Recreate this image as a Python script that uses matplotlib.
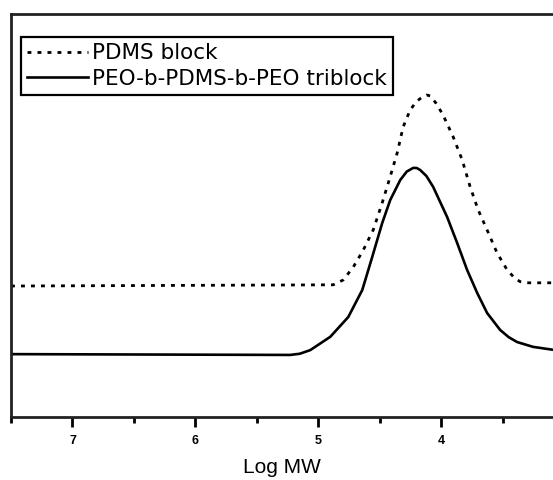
import matplotlib
matplotlib.use("Agg")
import matplotlib.pyplot as plt

# Data (x = Log MW, y = detector response, arbitrary units)
pdms_logmw = [7.50, 4.878, 4.797, 4.715, 4.634, 4.553, 4.480, 4.415, 4.358, 4.309,
              4.252, 4.20, 4.154, 4.12, 4.089, 4.04, 3.984, 3.902, 3.829, 3.764,
              3.699, 3.626, 3.545, 3.463, 3.40, 3.358, 3.30, 3.130, 3.05]
pdms_signal = [32.5, 32.8, 34.0, 37.2, 41.4, 46.4, 53.1, 59.6, 65.5, 72.0,
               76.2, 78.3, 79.4, 79.9, 79.7, 77.8, 74.9, 69.5, 63.8, 57.1,
               51.4, 46.4, 40.7, 36.5, 34.4, 33.6, 33.3, 33.3, 33.3]

tri_logmw = [7.50, 5.228, 5.15, 5.065, 4.902, 4.756, 4.642, 4.561, 4.480, 4.415,
             4.333, 4.28, 4.228, 4.20, 4.171, 4.12, 4.065, 3.951, 3.870, 3.789,
             3.707, 3.626, 3.520, 3.45, 3.382, 3.252, 3.05]
tri_signal = [15.6, 15.4, 15.7, 16.6, 19.9, 24.8, 31.5, 39.7, 48.1, 53.8,
              58.8, 60.9, 61.8, 61.8, 61.3, 59.8, 57.1, 49.6, 43.2, 36.5,
              30.8, 25.8, 21.6, 19.8, 18.6, 17.4, 16.5]

labels = ["PDMS block", "PEO-b-PDMS-b-PEO triblock"]
major_ticks = [7, 6, 5, 4]
minor_ticks = [7.5, 6.5, 5.5, 4.5, 3.5]
xlabel = "Log MW"

fig = plt.figure(figsize=(5.53, 4.80), dpi=100)
ax = fig.add_axes([11/553, 1 - 417/480, 1 - 11/553, (417 - 14)/480])

ax.plot(pdms_logmw, pdms_signal, color="black", lw=2.0,
        linestyle=(0, (1.4, 2.2)), label=labels[0])
ax.plot(tri_logmw, tri_signal, color="black", lw=1.9,
        linestyle="-", label=labels[1])

ax.set_xlim(7.5, 3.09)
ax.set_ylim(0, 100)
ax.set_xticks(major_ticks)
ax.set_xticklabels([str(t) for t in major_ticks], fontsize=9, fontweight="bold",
                   family=["Liberation Sans", "DejaVu Sans"])
ax.set_xticks(minor_ticks, minor=True)
ax.set_yticks([])
ax.tick_params(axis="x", which="major", direction="out", length=7, width=2,
               pad=6, colors="black")
ax.tick_params(axis="x", which="minor", direction="out", length=4, width=2)
for s in ["left", "bottom", "top"]:
    ax.spines[s].set_linewidth(2)
    ax.spines[s].set_color("#222222")
ax.spines["right"].set_visible(False)

ax.set_xlabel(xlabel, fontsize=15, family=["Liberation Sans", "DejaVu Sans"],
              labelpad=8)

leg = ax.legend(loc="upper left", bbox_to_anchor=(10/542, (417 - 37)/403),
                borderaxespad=0, fancybox=False, framealpha=1,
                edgecolor="black", handlelength=2.8, handletextpad=0.2,
                borderpad=0.3, labelspacing=0.25,
                prop={"family": ["DejaVu Sans"], "size": 15.5})
leg.get_frame().set_linewidth(1.6)

fig.savefig("out.png", dpi=100, facecolor="white")
